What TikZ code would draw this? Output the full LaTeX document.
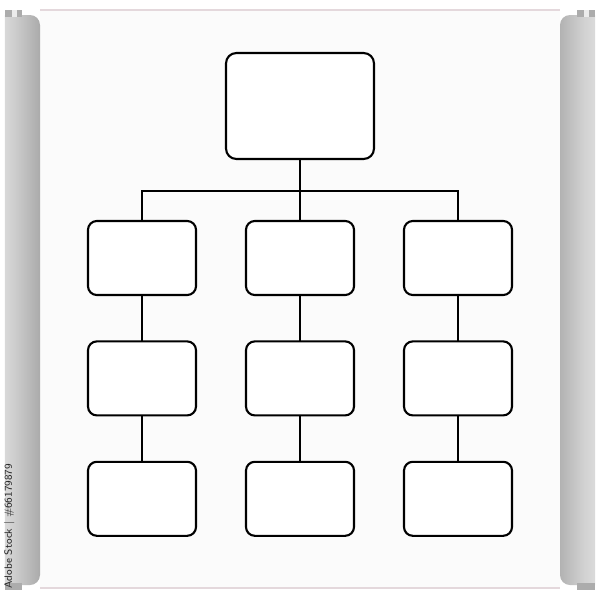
\documentclass[tikz,border=0pt]{standalone}
\usetikzlibrary{positioning}
\tikzstyle{every caja} = []
\tikzstyle{caja} = [draw=black, line width=1.5pt, fill=white, rounded corners=0.22cm, minimum width=2.7cm, minimum height=1.85cm, inner sep=0pt, outer sep=0pt, every caja]
\tikzstyle{link} = [draw=black, line width=1pt]
\definecolor{borde}{RGB}{228,216,220}
\pgfdeclarehorizontalshading{rodillo izq}{100bp}{color(0bp)=(gray!70); color(12bp)=(gray!22); color(40bp)=(gray!40); color(80bp)=(gray!70); color(100bp)=(gray!55)}
\pgfdeclarehorizontalshading{rodillo der}{100bp}{color(0bp)=(gray!85); color(18bp)=(gray!65); color(60bp)=(gray!35); color(85bp)=(gray!25); color(100bp)=(gray!65)}

\begin{document}
\begin{tikzpicture}[node distance=1.125cm and 1.2cm]

        \useasboundingbox (0,0) rectangle (15,-15);

        % lona
        \fill[white] (0,0) rectangle (15,-15);
        \fill[gray!3] (1,-0.25) rectangle (14,-14.7);
        \draw[borde, line width=1pt] (1,-0.25) -- (14,-0.25);
        \draw[borde, line width=1pt] (1,-14.7) -- (14,-14.7);

        % rodillos
        \shade[shading=rodillo izq] (0.125,-0.375) -- (0.75,-0.375) arc[start angle=90,end angle=0,radius=0.25]
            -- (1,-14.375) arc[start angle=0,end angle=-90,radius=0.25] -- (0.125,-14.625) -- cycle;
        \shade[shading=rodillo der] (14.875,-0.375) -- (14.25,-0.375) arc[start angle=90,end angle=180,radius=0.25]
            -- (14,-14.375) arc[start angle=180,end angle=270,radius=0.25] -- (14.875,-14.625) -- cycle;
        \fill[gray!65] (0.125,-0.25) rectangle (0.55,-0.425);
        \fill[gray!15] (0.3,-0.25) rectangle (0.42,-0.425);
        \fill[gray!65] (0.125,-14.575) rectangle (0.55,-14.75);
        \fill[gray!65] (14.425,-0.25) rectangle (14.875,-0.425);
        \fill[gray!15] (14.6,-0.25) rectangle (14.72,-0.425);
        \fill[gray!65] (14.425,-14.575) rectangle (14.875,-14.75);

        \node[rotate=90, anchor=west, text=black!85, font=\sffamily\fontsize{7.5}{8}\selectfont, inner sep=0pt] (credito) at (0.23,-14.72) {Adobe Stock | \#66179879};

        % organigrama
        \node[caja, minimum width=3.7cm, minimum height=2.65cm, rounded corners=0.26cm] (jefe) at (7.5,-2.65) {};

        \node[caja, below=1.55cm of jefe] (centro1) {};
        \node[caja, left=1.25cm of centro1] (izq1) {};
        \node[caja, right=1.25cm of centro1] (der1) {};

        \node[caja, below=1.16cm of izq1] (izq2) {};
        \node[caja, below=1.16cm of centro1] (centro2) {};
        \node[caja, below=1.16cm of der1] (der2) {};

        \node[caja, below=1.16cm of izq2] (izq3) {};
        \node[caja, below=1.16cm of centro2] (centro3) {};
        \node[caja, below=1.16cm of der2] (der3) {};

        \coordinate (bus) at (7.5,-4.775);
        \draw[link] (jefe.south) -- (centro1.north);
        \draw[link] (izq1.north) |- (bus) -| (der1.north);

        \draw[link] (izq1.south) -- (izq2.north);
        \draw[link] (izq2.south) -- (izq3.north);
        \draw[link] (centro1.south) -- (centro2.north);
        \draw[link] (centro2.south) -- (centro3.north);
        \draw[link] (der1.south) -- (der2.north);
        \draw[link] (der2.south) -- (der3.north);

\end{tikzpicture}
\end{document}
